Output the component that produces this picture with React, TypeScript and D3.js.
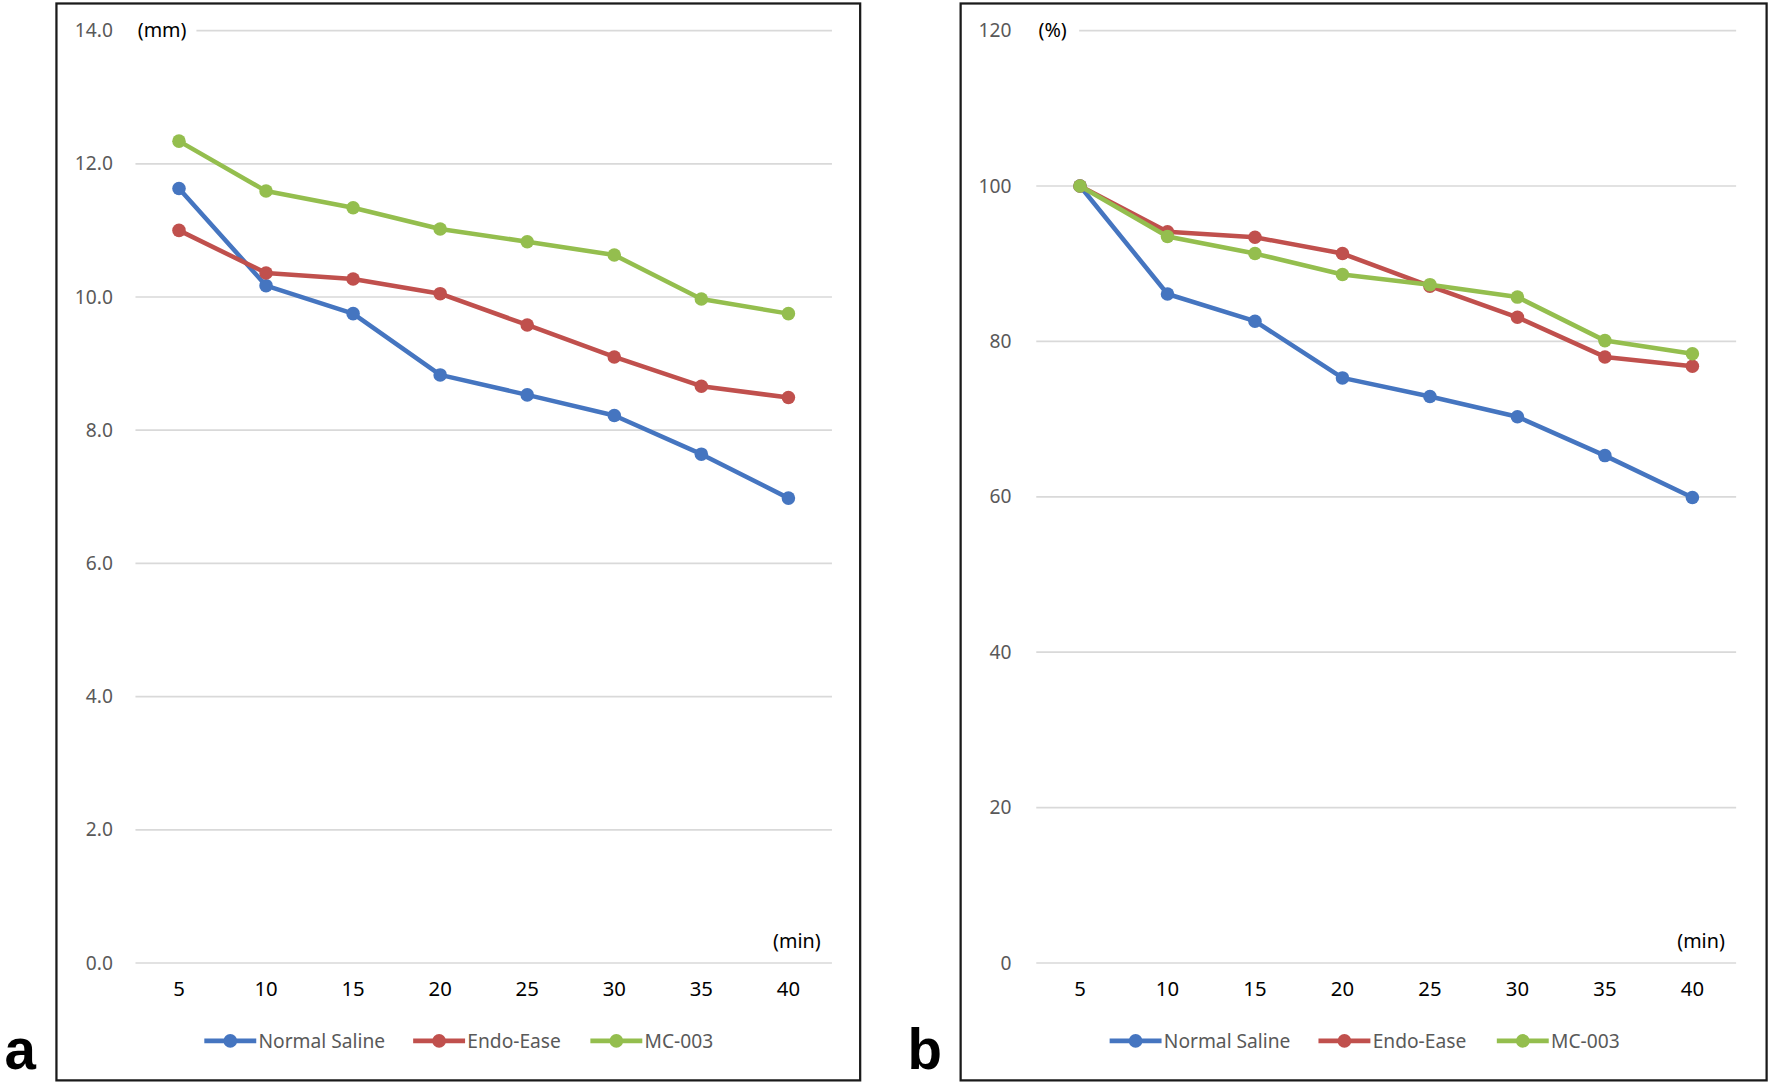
import React from 'react';
import * as d3 from 'd3';

// time points (min)
const minutes = ['5', '10', '15', '20', '25', '30', '35', '40'];
const seriesNames = ['Normal Saline', 'Endo-Ease', 'MC-003'];
const seriesColors = ['#4575C0', '#C0504D', '#94BE4E'];

// panel a: length in mm
const salineMm = [11.63, 10.17, 9.75, 8.83, 8.53, 8.22, 7.64, 6.98];
const endoEaseMm = [11.0, 10.36, 10.27, 10.05, 9.58, 9.1, 8.66, 8.49];
const mc003Mm = [12.34, 11.59, 11.34, 11.02, 10.83, 10.63, 9.97, 9.75];
const mmTicks = [0, 2, 4, 6, 8, 10, 12, 14];

// panel b: percent of 5-min value
const salinePct = [100, 86.1, 82.6, 75.3, 72.9, 70.3, 65.3, 59.9];
const endoEasePct = [100, 94.1, 93.4, 91.3, 87.1, 83.1, 78.0, 76.8];
const mc003Pct = [100, 93.5, 91.3, 88.6, 87.3, 85.7, 80.1, 78.4];
const pctTicks = [0, 20, 40, 60, 80, 100, 120];

const W = 1568;
const H = 961;
const FONT = '"Noto Sans", sans-serif';

type PanelProps = {
  letter: string;
  box: [number, number];
  plotX: [number, number];
  labelRight: number;
  unit: string;
  unitGap: number;
  ticks: number[];
  fmt: (v: number) => string;
  series: number[][];
  legendX: number[];
  letterX: number;
};

function Panel(p: PanelProps) {
  const top = 27;
  const bottom = 853;
  const x = d3.scalePoint<string>().domain(minutes).range(p.plotX).padding(0.5);
  const y = d3
    .scaleLinear()
    .domain([0, d3.max(p.ticks) as number])
    .range([bottom, top]);
  const line = d3
    .line<number>()
    .x((_, i) => x(minutes[i]) as number)
    .y((d) => y(d));
  const maxTick = d3.max(p.ticks) as number;

  return (
    <g>
      <rect x={p.box[0]} y={3} width={p.box[1] - p.box[0]} height={954} fill="white" stroke="#1a1a1a" strokeWidth={2} />
      <text x={p.letterX} y={947} fontFamily="Arial, 'Liberation Sans', sans-serif" fontWeight="bold" fontSize={50} fill="#000">
        {p.letter}
      </text>
      {p.ticks.map((t) => (
        <g key={t}>
          <line
            x1={t === maxTick ? p.plotX[0] + p.unitGap : p.plotX[0]}
            x2={p.plotX[1]}
            y1={y(t)}
            y2={y(t)}
            stroke="#D9D9D9"
            strokeWidth={1.5}
          />
          <text x={p.labelRight} y={y(t)} dy="0.35em" textAnchor="end" fontFamily={FONT} fontSize={17} fill="#595959">
            {p.fmt(t)}
          </text>
        </g>
      ))}
      <text x={p.plotX[0] + 2} y={top} dy="0.35em" fontFamily={FONT} fontSize={17.5} fill="#000">
        {p.unit}
      </text>
      <text x={p.plotX[1] - 10} y={834} dy="0.35em" textAnchor="end" fontFamily={FONT} fontSize={17.5} fill="#000">
        (min)
      </text>
      {minutes.map((m) => (
        <text key={m} x={x(m)} y={876} dy="0.35em" textAnchor="middle" fontFamily={FONT} fontSize={18} fill="#000">
          {m}
        </text>
      ))}
      {p.series.map((s, si) => (
        <g key={si}>
          <path d={line(s) || ''} fill="none" stroke={seriesColors[si]} strokeWidth={4} strokeLinejoin="round" />
          {s.map((v, i) => (
            <circle key={i} cx={x(minutes[i])} cy={y(v)} r={6} fill={seriesColors[si]} />
          ))}
        </g>
      ))}
      {seriesNames.map((name, i) => (
        <g key={name} transform={`translate(${p.legendX[i]},922)`}>
          <line x1={0} x2={46} y1={0} y2={0} stroke={seriesColors[i]} strokeWidth={4} />
          <circle cx={23} cy={0} r={6} fill={seriesColors[i]} />
          <text x={48} y={0} dy="0.35em" fontFamily={FONT} fontSize={17} fill="#595959">
            {name}
          </text>
        </g>
      ))}
    </g>
  );
}

export default function App() {
  return (
    <div style={{ position: 'absolute', left: 0, top: 0, width: 1770, height: 1085, background: 'white' }}>
      <svg width={1770} height={1085} viewBox={`0 0 ${W} ${H}`} style={{ display: 'block' }}>
        <rect width={W} height={H} fill="white" />
        <Panel
          letter="a"
          letterX={4}
          box={[50, 762]}
          plotX={[120, 737]}
          labelRight={100}
          unit="(mm)"
          unitGap={54}
          ticks={mmTicks}
          fmt={(v) => v.toFixed(1)}
          series={[salineMm, endoEaseMm, mc003Mm]}
          legendX={[181, 366, 523]}
        />
        <Panel
          letter="b"
          letterX={804}
          box={[851, 1565]}
          plotX={[918, 1538]}
          labelRight={896}
          unit="(%)"
          unitGap={38}
          ticks={pctTicks}
          fmt={(v) => String(v)}
          series={[salinePct, endoEasePct, mc003Pct]}
          legendX={[983, 1168, 1326]}
        />
      </svg>
    </div>
  );
}
